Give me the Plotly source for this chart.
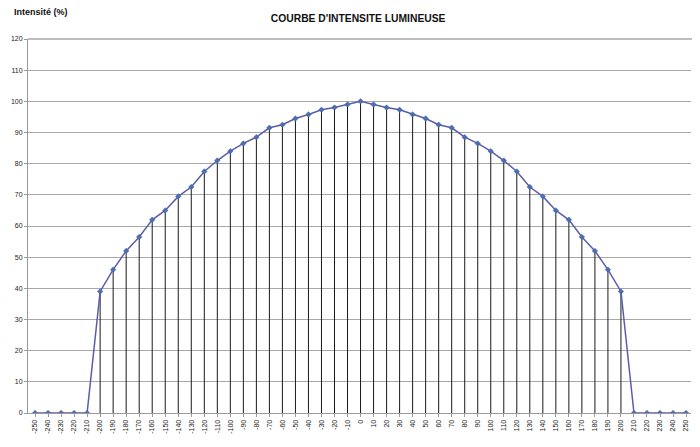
import plotly.graph_objects as go

angles = list(range(-250, 251, 10))
intensity = [0, 0, 0, 0, 0,
             39, 46, 52, 56.5, 62, 65, 69.5, 72.5, 77.5, 81,
             84, 86.5, 88.5, 91.5, 92.5, 94.5, 95.8, 97.3, 98, 99,
             100,
             99, 98, 97.3, 95.8, 94.5, 92.5, 91.5, 88.5, 86.5, 84,
             81, 77.5, 72.5, 69.5, 65, 62, 56.5, 52, 46, 39,
             0, 0, 0, 0, 0]
y_ticks = list(range(0, 121, 10))

fig = go.Figure()
fig.add_trace(go.Scatter(
    x=angles, y=intensity, mode="lines+markers",
    line=dict(color="#5a5ea8", width=1.5),
    marker=dict(symbol="diamond", size=4.2, color="#4a6fb5",
                line=dict(color="#3e5a9c", width=0.5)),
    error_y=dict(type="data", symmetric=False,
                 array=[0] * len(intensity), arrayminus=intensity,
                 color="#1a1a1a", thickness=1, width=0),
    hoverinfo="x+y", showlegend=False,
))

fig.update_layout(
    width=692, height=439,
    margin=dict(l=20, r=9, t=31, b=34, autoexpand=False),
    paper_bgcolor="white", plot_bgcolor="white",
    font=dict(family="Liberation Sans, Arial, sans-serif", size=7, color="#222"),
    title=dict(text="<b>COURBE D'INTENSITE LUMINEUSE</b>", x=0.506, xanchor="center",
               y=0.977, yanchor="middle", font=dict(size=10.3, color="#111"),
               automargin=False),
    annotations=[dict(text="<b>Intensité (%)</b>", xref="paper", yref="paper",
                      x=-0.024, y=1.072, xanchor="left", yanchor="middle",
                      showarrow=False, font=dict(size=9, color="#111"))],
    shapes=[dict(type="line", xref="paper", yref="paper", x0=0, x1=1.003, y0=1, y1=1,
                 line=dict(color="#bdbdbd", width=2), layer="below")],
    xaxis=dict(range=[-255.4, 253.8], tickvals=angles, ticktext=[str(a) for a in angles],
               tickangle=-90, showgrid=False, zeroline=False, automargin=False,
               showline=True, linecolor="#9a9a9a", linewidth=1,
               ticks="outside", ticklen=3, tickcolor="#9a9a9a",
               tickfont=dict(size=7)),
    yaxis=dict(range=[0, 120], tickvals=y_ticks, showgrid=True, automargin=False,
               gridcolor="#a8a8a8", gridwidth=1, zeroline=False,
               showline=True, linecolor="#9a9a9a", linewidth=1,
               ticks="outside", ticklen=3, tickcolor="#9a9a9a",
               tickfont=dict(size=7)),
)

fig.write_html("out.html")
